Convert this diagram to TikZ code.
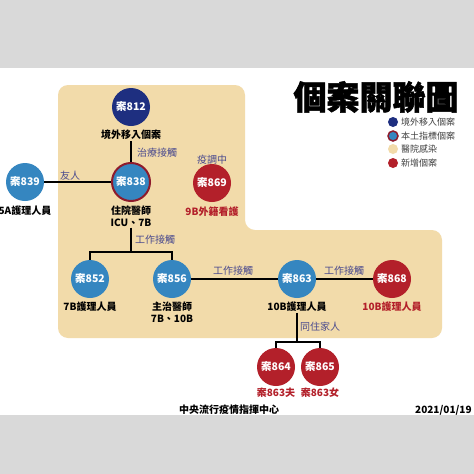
\documentclass[tikz,border=0pt]{standalone}
\usepackage{fontspec}
\setmainfont{Noto Sans CJK TC}
\newfontfamily\titlefont[BoldFeatures={FakeBold=1.5}]{Noto Sans CJK TC}
\usetikzlibrary{backgrounds}
\definecolor{graybar}{HTML}{D9D9D9}
\definecolor{beige}{HTML}{F2DBAA}
\definecolor{darkblue}{HTML}{1E2F80}
\definecolor{lightblue}{HTML}{3586C0}
\definecolor{redcase}{HTML}{B3202A}
\definecolor{redring}{HTML}{8E1B2C}
\definecolor{relcol}{HTML}{4A4A8E}
\definecolor{legtext}{HTML}{404040}
\tikzset{
  casenode/.style={circle, minimum size=38pt, inner sep=0pt, font=\fontsize{10.5}{11}\selectfont\bfseries, text=white},
  importedcase/.style={casenode, fill=darkblue},
  localcase/.style={casenode, fill=lightblue},
  indexcase/.style={casenode, fill=lightblue, draw=redring, line width=2pt},
  newcase/.style={casenode, fill=redcase},
  lab/.style={font=\fontsize{10}{12}\selectfont\bfseries, align=center, inner sep=1pt},
  redlab/.style={lab, text=redcase},
  rel/.style={font=\fontsize{10}{10}\selectfont, text=relcol, inner sep=1pt},
  link/.style={line width=2pt, black},
  legdot/.style={circle, minimum size=10pt, inner sep=0pt},
  legtxt/.style={anchor=west, font=\fontsize{9}{9}\selectfont, text=legtext, inner sep=0pt}
}
\begin{document}
\begin{tikzpicture}[x=1pt,y=-1pt]
\useasboundingbox (0,0) rectangle (474,474);

% title
\node (title) at (376,97) {\titlefont\fontsize{33}{33}\selectfont\bfseries 個案關聯圖};

% legend
\node[legdot, fill=darkblue] (d1) at (393,122) {};
\node[legtxt] (t1) at (401,122) {境外移入個案};
\node[legdot, fill=lightblue, draw=redring, line width=1.5pt] (d2) at (393,136) {};
\node[legtxt] (t2) at (401,136) {本土指標個案};
\node[legdot, fill=beige] (d3) at (393,149) {};
\node[legtxt] (t3) at (401,149) {醫院感染};
\node[legdot, fill=redcase] (d4) at (393,163) {};
\node[legtxt] (t4) at (401,163) {新增個案};

% cases
\node[importedcase] (c812) at (131,107) {案812};
\node[lab] (l812) at (131,135) {境外移入個案};
\node[indexcase] (c838) at (131,182) {案838};
\node[lab] (l838) at (131,216) {住院醫師\\ICU、7B};
\node[localcase] (c839) at (25,182) {案839};
\node[lab] (l839) at (25,211) {5A護理人員};
\node[newcase] (c869) at (212,183) {案869};
\node[rel] (s869) at (212,160) {疫調中};
\node[redlab] (l869) at (212,212) {9B外籍看護};

\node[localcase] (c852) at (90,279) {案852};
\node[lab] (l852) at (90,307) {7B護理人員};
\node[localcase] (c856) at (172,279) {案856};
\node[lab] (l856) at (172,312) {主治醫師\\7B、10B};
\node[localcase] (c863) at (297,279) {案863};
\node[lab] (l863) at (297,307) {10B護理人員};
\node[newcase] (c868) at (392,279) {案868};
\node[redlab] (l868) at (392,307) {10B護理人員};
\node[newcase] (c864) at (276,367) {案864};
\node[redlab] (l864) at (276,393) {案863夫};
\node[newcase] (c865) at (320,367) {案865};
\node[redlab] (l865) at (320,393) {案863女};

\coordinate (j1) at (131,252);
\coordinate (j2) at (297,342);

\begin{scope}[on background layer]
\fill[white] (0,0) rectangle (474,474);
\fill[graybar] (0,0) rectangle (474,68);
\fill[graybar] (0,415) rectangle (474,474);
\fill[beige, rounded corners=10pt] (58,85) -- (245,85) -- (245,230) -- (442,230) -- (442,338) -- (58,338) -- cycle;
\draw[link] (l812) -- (c838);
\draw[link] (c839) -- (c838);
\draw[link] (l838) -- (j1);
\draw[link] (c852) |- (j1) -| (c856);
\draw[link] (c856) -- (c863);
\draw[link] (c863) -- (c868);
\draw[link] (l863) -- (j2);
\draw[link] (c864) |- (j2) -| (c865);
\end{scope}

% relation labels
\node[rel] (r1) at (157,153) {治療接觸};
\node[rel] (r2) at (70,176) {友人};
\node[rel] (r3) at (155,240) {工作接觸};
\node[rel] (r4) at (233,271) {工作接觸};
\node[rel] (r5) at (344,271) {工作接觸};
\node[rel] (r6) at (320,327) {同住家人};

% footer
\node[font=\fontsize{10}{10}\selectfont\bfseries] (org) at (229,410) {中央流行疫情指揮中心};
\node[font=\fontsize{10}{10}\selectfont\bfseries, anchor=west, inner sep=0pt] (date) at (415,410) {2021/01/19};
\end{tikzpicture}
\end{document}
